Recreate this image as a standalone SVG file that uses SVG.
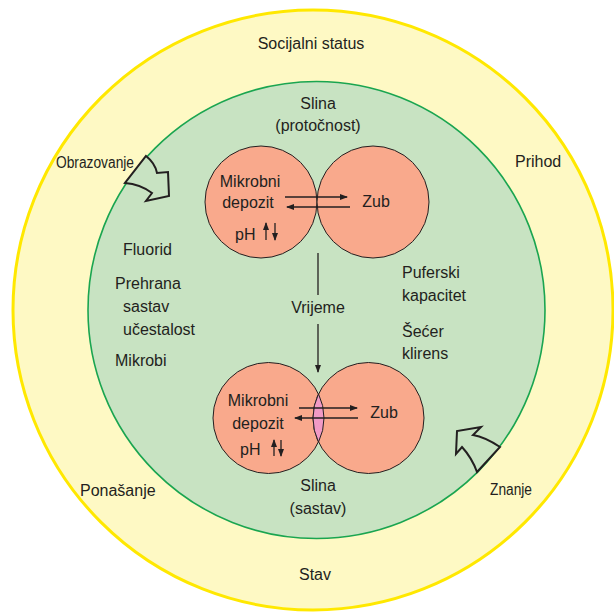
<svg xmlns="http://www.w3.org/2000/svg" width="614" height="615" viewBox="0 0 614 615">
<style>
text{font-family:"Liberation Sans",Arial,sans-serif;font-size:16px;fill:#231f20}
.m{text-anchor:middle}
.ln{stroke:#231f20;stroke-width:1.3;fill:none}
.cir{fill:#f9a98c;stroke:#231f20;stroke-width:1}
.blk{fill:#c8e3c2;stroke:#231f20;stroke-width:2;stroke-linejoin:miter}
</style>
<defs>
<marker id="ah" markerWidth="8" markerHeight="6" refX="7" refY="3" orient="auto" markerUnits="userSpaceOnUse">
<path d="M0,0 L8,3 L0,6 Z" fill="#231f20"/>
</marker>
</defs>
<rect width="614" height="615" fill="#ffffff"/>
<g id="outer">
<circle cx="313" cy="310" r="300" fill="#fef9c4" stroke="#ffe800" stroke-width="3"/>
<text class="m" x="311" y="49">Socijalni status</text>
<text x="56" y="168" textLength="78" lengthAdjust="spacingAndGlyphs">Obrazovanje</text>
<text x="515" y="167">Prihod</text>
<text x="80" y="496">Ponašanje</text>
<text x="490" y="495" textLength="42" lengthAdjust="spacingAndGlyphs">Znanje</text>
<text class="m" x="315" y="580">Stav</text>
</g>
<g id="inner">
<circle cx="316.5" cy="310" r="228.5" fill="#c8e3c2" stroke="#1aa550" stroke-width="1.6"/>
<text class="m" x="318" y="109">Slina</text>
<text class="m" x="318" y="131">(protočnost)</text>
<text x="123" y="255">Fluorid</text>
<text x="115" y="289">Prehrana</text>
<text x="123" y="312">sastav</text>
<text x="123" y="335">učestalost</text>
<text x="115" y="366">Mikrobi</text>
<text x="402" y="278">Puferski</text>
<text x="402" y="301">kapacitet</text>
<text x="402" y="337">Šećer</text>
<text x="402" y="359">klirens</text>
<text class="m" x="318" y="313">Vrijeme</text>
<text class="m" x="318" y="491">Slina</text>
<text class="m" x="318" y="514">(sastav)</text>
</g>
<g id="arrow-obrazovanje">
<path class="blk" d="M146,156 Q155,163 157,173 L168,172 L169,196 L146,201 L152,193 Q140,184 125,183 Z"/>
</g>
<g id="arrow-znanje">
<path class="blk" d="M500,447 Q485,437 473,435 L481,427 L457,431 L456,454 L462,447 Q472,458 477,472 Z"/>
</g>
<g id="top-mikrobni">
<circle class="cir" cx="261" cy="202" r="56"/>
<text class="m" x="250" y="187">Mikrobni</text>
<text class="m" x="248" y="208">depozit</text>
<text x="235" y="240">pH</text>
</g>
<g id="top-zub">
<circle class="cir" cx="373" cy="202" r="56"/>
<text class="m" x="376" y="207">Zub</text>
</g>
<g id="bottom-mikrobni">
<circle class="cir" cx="268.5" cy="418" r="55.5"/>
</g>
<g id="bottom-zub">
<circle class="cir" cx="368.5" cy="418" r="55.5"/>
<path d="M318.5,393.9 A55.5,55.5 0 0 1 318.5,442.1 A55.5,55.5 0 0 1 318.5,393.9 Z" fill="#f19ac6" stroke="#231f20" stroke-width="1"/>
<text class="m" x="384" y="418">Zub</text>
</g>
<g id="bottom-labels">
<text class="m" x="258" y="406">Mikrobni</text>
<text class="m" x="258" y="429">depozit</text>
<text x="240" y="455">pH</text>
</g>
<g id="connectors">
<line class="ln" x1="285" y1="197" x2="347" y2="197" marker-end="url(#ah)"/>
<line class="ln" x1="350" y1="207" x2="287" y2="207" marker-end="url(#ah)"/>
<line class="ln" x1="266" y1="240" x2="266" y2="223" marker-end="url(#ah)"/>
<line class="ln" x1="275" y1="223" x2="275" y2="240" marker-end="url(#ah)"/>
<line class="ln" x1="318" y1="253" x2="318" y2="295"/>
<line class="ln" x1="318" y1="324" x2="318" y2="372" marker-end="url(#ah)"/>
<line class="ln" x1="299" y1="408" x2="357" y2="408" marker-end="url(#ah)"/>
<line class="ln" x1="358" y1="418" x2="295" y2="418" marker-end="url(#ah)"/>
<line class="ln" x1="274" y1="456" x2="274" y2="440" marker-end="url(#ah)"/>
<line class="ln" x1="281" y1="440" x2="281" y2="456" marker-end="url(#ah)"/>
</g>
</svg>
